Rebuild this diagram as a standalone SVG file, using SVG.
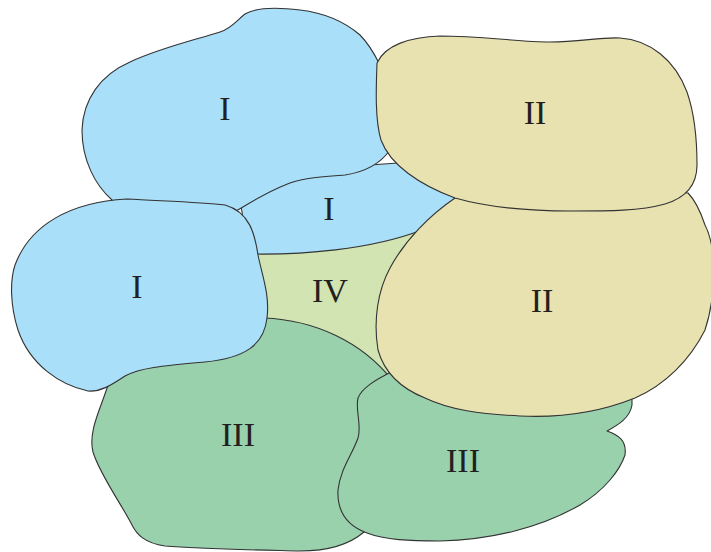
<svg xmlns="http://www.w3.org/2000/svg" width="711" height="552" viewBox="0 0 711 552">
<style>
.blob{stroke:#333;stroke-width:1.1;stroke-linejoin:round}
.b{fill:#A9DFF9}
.t{fill:#E8E2B0}
.g{fill:#99D1AD}
.iv{fill:#D1E4B2;stroke:none}
.lbl{font-family:"Liberation Serif","Times New Roman",serif;font-size:34px;fill:#231F20;text-anchor:middle}
</style>
<rect width="711" height="552" fill="#fff"/>
<g id="region-IV">
<path class="iv" d="M240,240 L440,220 L420,395 L240,345 Z"/>
<text class="lbl" x="330" y="302">IV</text>
</g>
<g id="region-I-middle">
<path class="blob b" d="M245,230 L250,254 C300,255 370,250 422,230 L470,195 L440,160 L300,170 L240,200 Z"/>
</g>
<g id="region-I-top">
<path class="blob b" d="M112,200 C95,185 82,160 82,130 C83,100 100,75 130,62 C160,48 195,40 220,32 C232,28 237,20 245,14 C255,8 275,7 300,10 C325,13 345,22 360,35 C368,43 374,53 380,65 L400,90 L400,140 L390,150 C380,164 365,172 345,175 C320,177 300,178 285,185 C265,193 250,203 236,211 L200,215 L130,215 Z"/>
</g>
<g id="region-III-left">
<path class="blob g" d="M264,318 C315,320 362,342 392,380 L385,470 L372,526 L364,532 C350,544 330,551 300,551 C260,550 200,549 165,546 C145,543 137,535 132,525 C122,505 100,475 93,452 C88,432 100,410 107,388 L115,372 L240,345 Z"/>
</g>
<g id="region-I-left">
<path class="blob b" d="M127,199 C160,201 200,202 225,205 C250,212 255,235 258,255 C262,275 270,295 267,318 C264,345 245,358 205,362 C160,366 140,368 125,376 C110,386 100,392 88,391 C60,385 30,365 18,330 C10,305 10,280 15,265 C30,225 70,202 127,199 Z"/>
</g>
<g id="region-III-right">
<path class="blob g" d="M393,371 C375,380 362,388 358,398 C355,410 362,425 358,438 C352,455 340,470 338,490 C337,510 345,525 367,533 C385,540 410,541 440,541 C490,540 540,528 580,505 C605,490 620,470 625,455 C627,440 618,435 607,431 C618,425 630,418 632,405 L632,390 L520,390 Z"/>
</g>
<g id="region-II-bottom">
<path class="blob t" d="M455,198 C430,215 405,240 390,268 C378,290 373,320 378,350 C385,375 405,390 425,398 C450,410 480,414 520,416 C560,418 600,412 635,398 C665,385 690,360 705,330 C715,300 718,250 705,225 C700,210 695,200 688,193 L600,180 L470,185 Z"/>
</g>
<g id="region-II-top">
<path class="blob t" d="M377,63 C385,45 410,37 440,36 C480,36 520,42 550,42 C580,42 600,37 620,38 C650,40 675,60 687,92 C695,115 697,145 697,165 C697,185 685,198 665,204 C640,211 610,211 570,211 C530,211 490,208 455,198 C420,185 390,165 381,140 C375,120 376,90 377,63 Z"/>
</g>
<g id="labels">
<text class="lbl" x="225" y="120">I</text>
<text class="lbl" x="329" y="220">I</text>
<text class="lbl" x="137" y="298">I</text>
<text class="lbl" x="535" y="124">II</text>
<text class="lbl" x="542" y="312">II</text>
<text class="lbl" x="238" y="446">III</text>
<text class="lbl" x="463" y="472">III</text>
</g>
</svg>
